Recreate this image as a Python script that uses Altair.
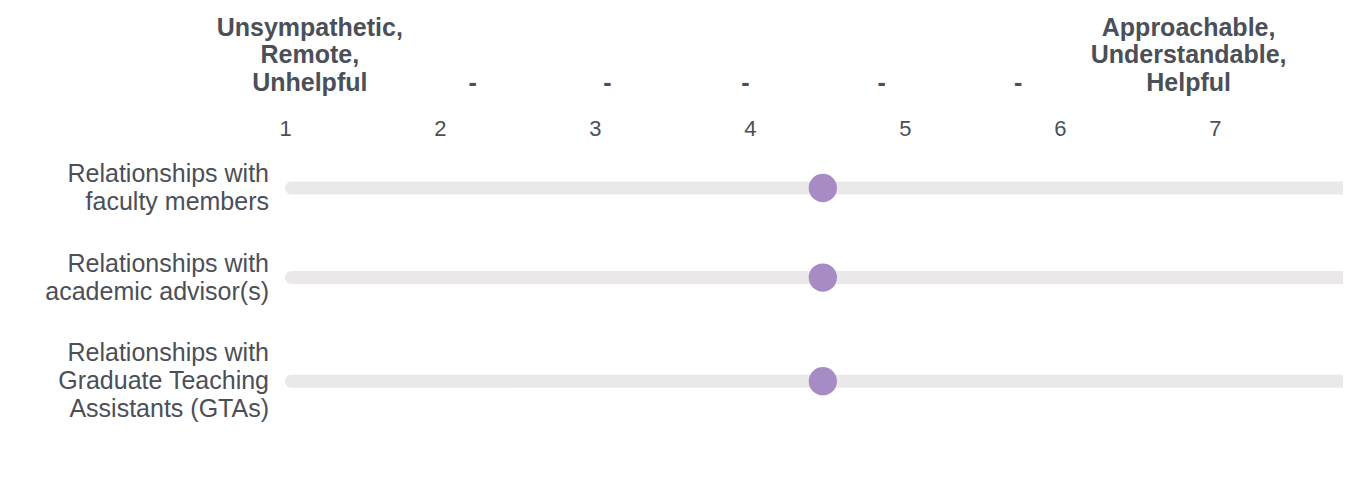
import altair as alt
import pandas as pd

# ---- data ----
row_labels = [
    "Relationships with|faculty members",
    "Relationships with|academic advisor(s)",
    "Relationships with|Graduate Teaching|Assistants (GTAs)",
]
mean_scores = [4.47, 4.47, 4.47]
scale_min = 1
scale_max = 7.826
tick_values = [1, 2, 3, 4, 5, 6, 7]
anchor_texts = ["Unsympathetic,|Remote,|Unhelpful", "Approachable,|Understandable,|Helpful"]
anchor_positions = [1.16, 6.83]
dash_texts = ["-", "-", "-", "-", "-"]
dash_positions = [2.21, 3.08, 3.97, 4.85, 5.73]

FONT = "Liberation Sans"
TEXT_COLOR = "#4b4f58"
TRACK_COLOR = "#ebe8e9"
DOT_COLOR = "#a68bc4"
LINE_H = 28          # px per text line
ROW_GAP = 1.2        # gap between row blocks, in text lines

# ---- row layout (in text-line units, derived from the labels) ----
n_lines = [len(r.split("|")) for r in row_labels]
centers, first_lines, acc = [], [], 0.0
for n in n_lines:
    block = n + ROW_GAP
    c = acc + block / 2
    centers.append(c)
    first_lines.append(c - (n - 1) / 2)
    acc += block
total_units = acc

rows = pd.DataFrame({
    "row": row_labels,
    "score": mean_scores,
    "start": [scale_min] * len(row_labels),
    "end": [scale_max] * len(row_labels),
    "center": centers,
    "first": first_lines,
})
anchors = pd.DataFrame({"text": anchor_texts, "pos": anchor_positions})
dashes = pd.DataFrame({"text": dash_texts, "pos": dash_positions})

W = 1058
H = total_units * LINE_H

x_scale = alt.Scale(domain=[scale_min, scale_max], nice=False, zero=False, padding=0)
y_scale = alt.Scale(domain=[0, total_units], reverse=True, nice=False, zero=False, padding=0)

track = alt.Chart(rows).mark_bar(
    color=TRACK_COLOR, height=13, orient="horizontal",
    cornerRadiusTopLeft=6.5, cornerRadiusBottomLeft=6.5,
).encode(
    x=alt.X(
        "start:Q", scale=x_scale,
        axis=alt.Axis(
            orient="top", values=tick_values, format="d", title=None,
            domain=False, ticks=False, tickSize=0, grid=False,
            labelFontSize=22, labelFont=FONT, labelColor=TEXT_COLOR,
            labelBaseline="alphabetic", labelPadding=7.5, labelFlush=False,
        ),
    ),
    x2="end:Q",
    y=alt.Y("center:Q", scale=y_scale, axis=None),
)

dots = alt.Chart(rows).mark_circle(
    color=DOT_COLOR, size=800, opacity=1
).encode(
    x=alt.X("score:Q", scale=x_scale),
    y=alt.Y("center:Q", scale=y_scale),
)

row_text = alt.Chart(rows).mark_text(
    font=FONT, fontSize=25, color=TEXT_COLOR, align="right",
    baseline="middle", lineHeight=LINE_H, lineBreak="|",
).encode(
    x=alt.value(-16),
    y=alt.Y("first:Q", scale=y_scale),
    text="row:N",
)

anchor_text = alt.Chart(anchors).mark_text(
    font=FONT, fontSize=25, fontWeight="bold", color=TEXT_COLOR,
    baseline="alphabetic", align="center", lineHeight=27.5, lineBreak="|",
).encode(
    x=alt.X("pos:Q", scale=x_scale),
    y=alt.value(-107.5),
    text="text:N",
)

dash_text = alt.Chart(dashes).mark_text(
    font=FONT, fontSize=25, fontWeight="bold", color=TEXT_COLOR,
    baseline="alphabetic", align="center",
).encode(
    x=alt.X("pos:Q", scale=x_scale),
    y=alt.value(-52.5),
    text="text:N",
)

chart = alt.layer(track, dots, row_text, anchor_text, dash_text).properties(
    width=W, height=H,
    autosize=alt.AutoSizeParams(type="none"),
    padding={"left": 277, "top": 135.2, "right": 0, "bottom": 20},
).configure_view(stroke=None)

chart.save("out.html", embed_options={"renderer": "svg", "actions": False})
